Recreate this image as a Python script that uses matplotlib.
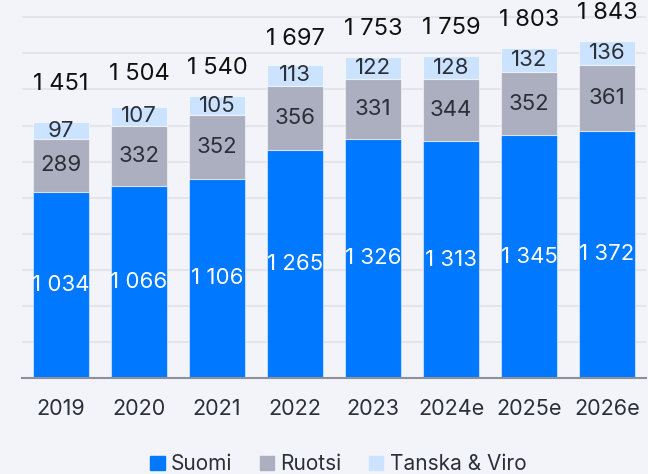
import matplotlib.pyplot as plt
from matplotlib.patches import Patch
import numpy as np

plt.rcParams['font.family'] = ['Inter', 'DejaVu Sans']

# Datos
vuodet = ['2019', '2020', '2021', '2022', '2023', '2024e', '2025e', '2026e']
suomi = [1034, 1066, 1106, 1265, 1326, 1313, 1345, 1372]
ruotsi = [289, 332, 352, 356, 331, 344, 352, 361]
tanska_viro = [97, 107, 105, 113, 122, 128, 132, 136]
yhteensa = [1451, 1504, 1540, 1697, 1753, 1759, 1803, 1843]

c_suomi = '#0078FF'
c_ruotsi = '#ABAFBF'
c_tanska = '#CCE3FF'
bg = '#F3F4F9'
txt = '#2B2F38'


def fmt(v):
    s = f'{v:,}'.replace(',', ' ')
    return s


fig = plt.figure(figsize=(6.48, 4.74), dpi=100, facecolor=bg)
ax = fig.add_axes([22 / 648, 96 / 474, 624 / 648, 378 / 474], facecolor=bg)

x = np.arange(len(vuodet))
w = 0.72
edge = dict(edgecolor=(1, 1, 1, 0.5), linewidth=0.8)
b1 = ax.bar(x, suomi, w, color=c_suomi, zorder=3, **edge)
b2 = ax.bar(x, ruotsi, w, bottom=suomi, color=c_ruotsi, zorder=3, **edge)
pohja = np.array(suomi) + np.array(ruotsi)
b3 = ax.bar(x, tanska_viro, w, bottom=pohja, color=c_tanska, zorder=3, **edge)

for i in range(len(vuodet)):
    ax.text(x[i], suomi[i] / 2, fmt(suomi[i]), ha='center', va='center',
            color='white', fontsize=16, zorder=4)
    ax.text(x[i], suomi[i] + ruotsi[i] / 2, fmt(ruotsi[i]), ha='center', va='center',
            color=txt, fontsize=16, zorder=4)
    ax.text(x[i], pohja[i] + tanska_viro[i] / 2, fmt(tanska_viro[i]), ha='center', va='center',
            color=txt, fontsize=16, zorder=4)
    ax.text(x[i], yhteensa[i] + 180, fmt(yhteensa[i]), ha='center', va='center',
            color='#111111', fontsize=17, zorder=4)

ax.set_xlim(-0.5, 7.5)
ax.set_ylim(0, 2096)
ax.set_yticks(np.arange(0, 2001, 200))
ax.set_yticklabels([])
ax.tick_params(axis='y', length=0)
ax.grid(axis='y', color='#E2E3E8', linewidth=1.2, zorder=0)
ax.set_xticks(x)
ax.set_xticklabels(vuodet, fontsize=15.5, color=txt)
ax.tick_params(axis='x', length=0, pad=15)
for s in ['top', 'right', 'left']:
    ax.spines[s].set_visible(False)
ax.spines['bottom'].set_color('#8C9099')
ax.spines['bottom'].set_linewidth(1.5)
ax.spines['bottom'].set_zorder(5)

handles = [Patch(color=c_suomi, label='Suomi'),
           Patch(color=c_ruotsi, label='Ruotsi'),
           Patch(color=c_tanska, label='Tanska & Viro')]
fig.legend(handles=handles, loc='lower center', bbox_to_anchor=(0.522, -0.04), ncol=3,
           frameon=False, fontsize=15, handlelength=0.7, handleheight=0.7,
           handletextpad=0.3, columnspacing=1.3, labelcolor=txt)

plt.savefig('out.png', dpi=100, facecolor=bg)
